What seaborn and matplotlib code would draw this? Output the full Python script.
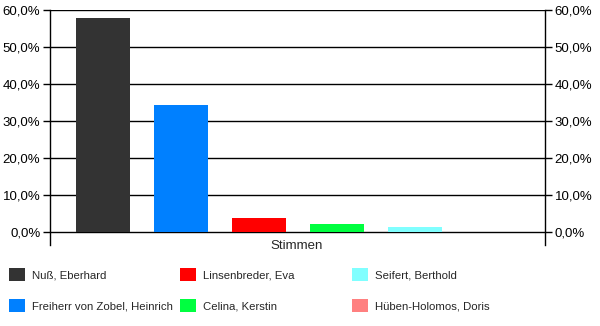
import matplotlib
matplotlib.use("Agg")
import matplotlib.pyplot as plt
import seaborn as sns
import pandas as pd
from matplotlib.patches import Patch
from matplotlib.ticker import FuncFormatter

candidates = ["Nuß, Eberhard", "Freiherr von Zobel, Heinrich", "Linsenbreder, Eva",
              "Celina, Kerstin", "Seifert, Berthold", "Hüben-Holomos, Doris"]
shares = [57.8, 34.2, 3.8, 2.1, 1.3, 0.0]
colors = ["#333333", "#0080FF", "#FF0000", "#00FF40", "#80FFFF", "#FF8080"]
yticks = [0, 10, 20, 30, 40, 50, 60]
xlabel = "Stimmen"

sns.set_theme(style="white")
plt.rcParams["font.family"] = ["Liberation Sans", "DejaVu Sans"]
plt.rcParams["font.size"] = 9

W, H = 600, 326
fig = plt.figure(figsize=(W / 100, H / 100), dpi=100)
ax = fig.add_axes([50 / W, 1 - 245 / H, 495 / W, 235 / H])

df = pd.DataFrame({"cand": candidates, "share": shares})
sns.barplot(data=df, x="cand", y="share", hue="cand", palette=colors,
            width=0.69, legend=False, ax=ax, saturation=1, zorder=3,
            linewidth=0, edgecolor="none")

ax.set_xlim(-0.68, 5.66)
ax.set_ylim(-3.5, 60)
ax.set_yticks(yticks)
ax.yaxis.set_major_formatter(FuncFormatter(lambda v, p: f"{v:.1f}%".replace(".", ",")))
ax.grid(axis="y", color="black", linewidth=1, zorder=0)
ax.set_xticks([])
ax.set_xlabel("")
ax.set_ylabel("")
for s in ["top", "bottom"]:
    ax.spines[s].set_visible(False)
for s in ["left", "right"]:
    ax.spines[s].set_color("black")
    ax.spines[s].set_linewidth(1)
ax.tick_params(axis="y", which="both", left=True, right=True, labelleft=True,
               labelright=True, length=5, width=1, color="black", labelsize=9.5,
               labelcolor="black", pad=2)

fig.text(297 / W, 1 - 246 / H, xlabel, ha="center", va="center", fontsize=9.5)

col_x = [6, 177, 349]
for c in range(3):
    handles = [Patch(facecolor=colors[i], edgecolor="none") for i in (2 * c, 2 * c + 1)]
    labels = [candidates[2 * c], candidates[2 * c + 1]]
    fig.legend(handles, labels, loc="upper left", bbox_to_anchor=(col_x[c] / W, 1 - 265 / H),
               frameon=False, handlelength=1.35, handleheight=1.35, handletextpad=0.6,
               labelspacing=1.55, fontsize=8.2, borderpad=0.3, borderaxespad=0)

fig.savefig("out.png", dpi=100)
